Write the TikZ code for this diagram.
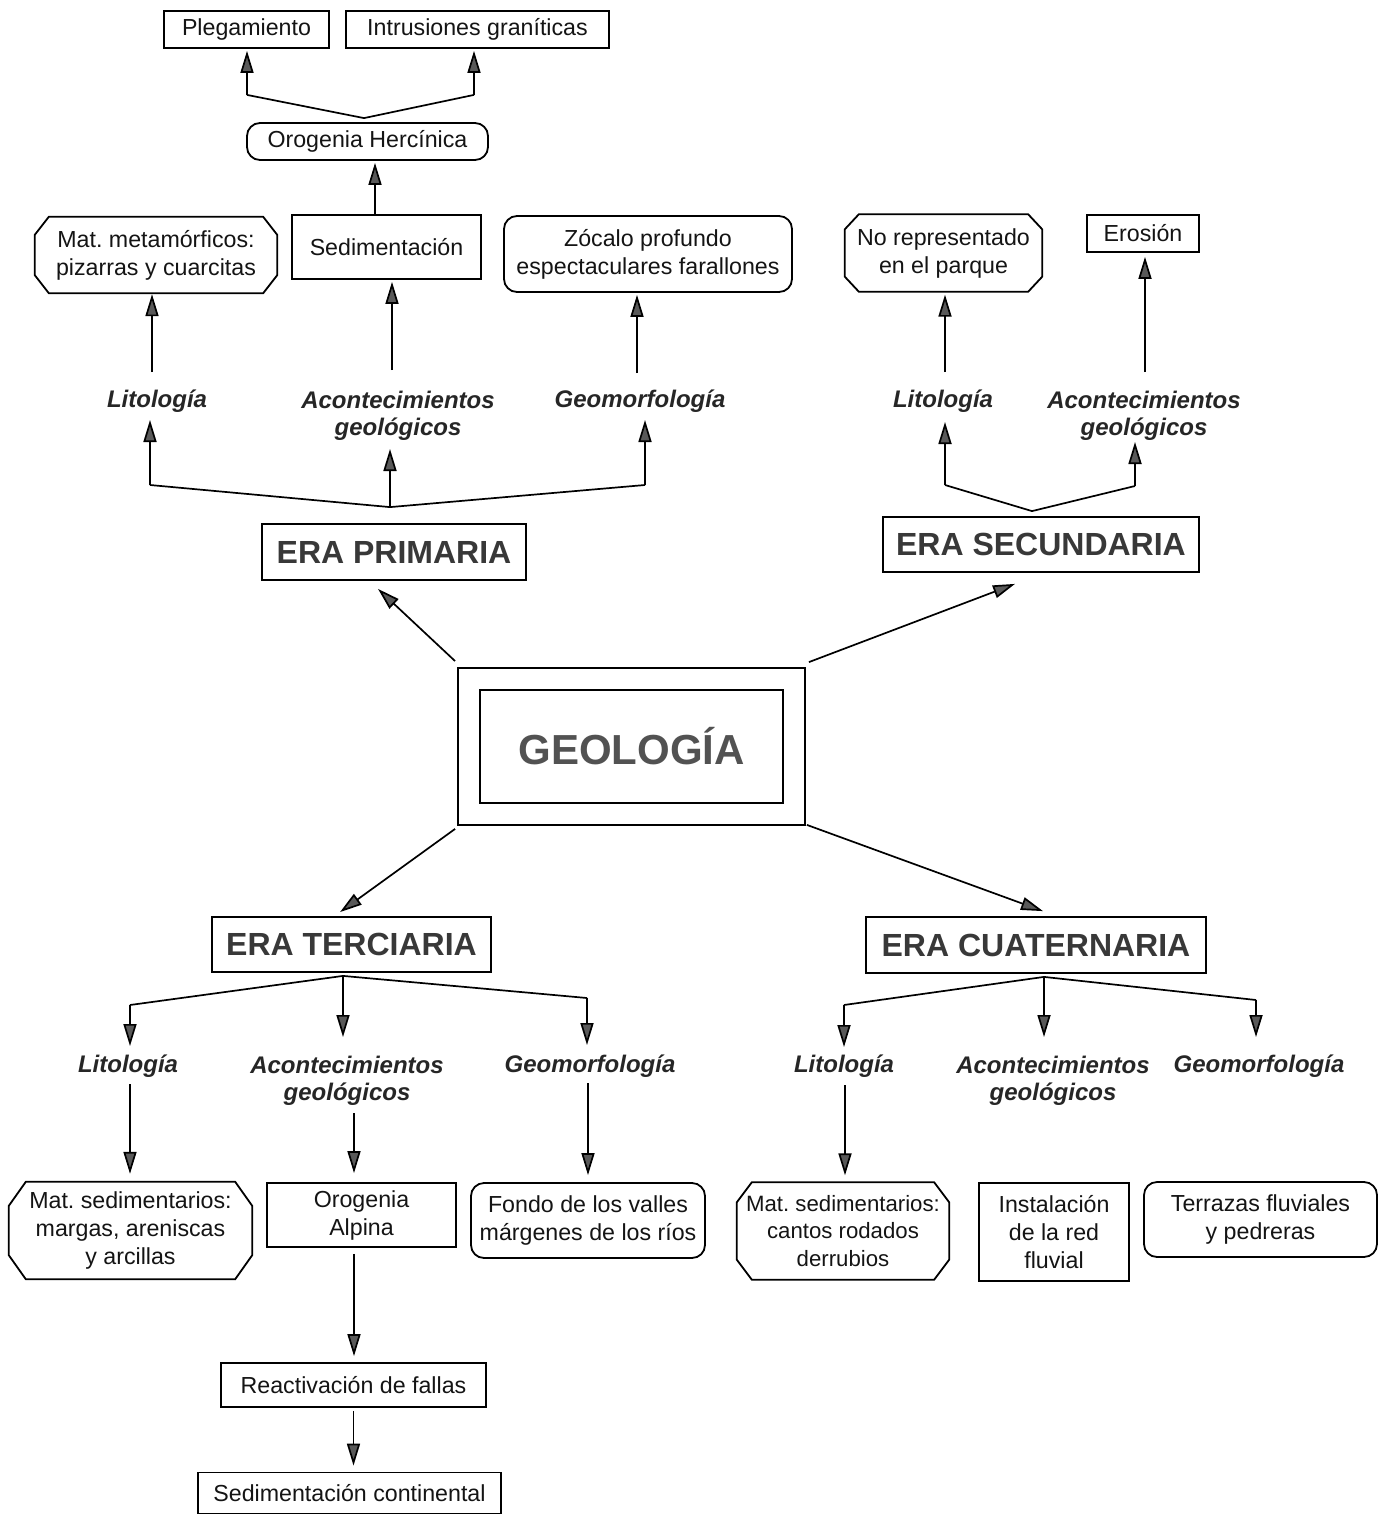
\documentclass[tikz,border=0pt]{standalone}
\usepackage{fontspec}
\setmainfont{Liberation Sans}
\usetikzlibrary{arrows.meta}
\newcommand\octframe[3]{%
  \draw[boxline] ([xshift=#2pt]#1.north west) -- ([xshift=-#2pt]#1.north east)
    -- ([yshift=-#3pt]#1.north east) -- ([yshift=#3pt]#1.south east)
    -- ([xshift=-#2pt]#1.south east) -- ([xshift=#2pt]#1.south west)
    -- ([yshift=#3pt]#1.south west) -- ([yshift=-#3pt]#1.north west) -- cycle;}
\begin{document}
\frenchspacing
\begin{tikzpicture}[x=1pt,y=-1pt,
  boxline/.style={line width=1.8pt, line join=miter},
  txt/.style={font=\fontsize{23.2}{28}\selectfont, align=center, text=black!92},
  lbl/.style={font=\fontsize{24}{27}\selectfont\bfseries\itshape, align=center, text=black!85, inner sep=0pt},
  era/.style={draw, boxline, font=\fontsize{32}{36}\selectfont\bfseries, text=black!78, inner sep=0pt},
  box/.style={draw, boxline, txt, inner sep=0pt},
  rbox/.style={box, rounded corners=13pt},
  obox/.style={txt, inner sep=0pt},
  arr/.style={line width=1.7pt, -{Triangle[length=22pt,width=13pt,fill=black!65]}},
  ln/.style={line width=1.7pt},
]
\fill[white] (0,0) rectangle (1382,1515);
\useasboundingbox (0,0) rectangle (1382,1515);

% ---------- top part
\node[box, minimum width=165pt, minimum height=37pt] (pleg) at (246.5,29.5) {Plegamiento};
\node[box, minimum width=263pt, minimum height=37pt] (intr) at (477.5,29.5) {Intrusiones graníticas};
\node[rbox, minimum width=241pt, minimum height=37pt] (oroH) at (367.5,141.5) {Orogenia Hercínica};
\node[obox, minimum width=242pt, minimum height=76pt] (matmet) at (156,255) {Mat. metamórficos:\\pizarras y cuarcitas};
\octframe{matmet}{14}{18}
\node[box, minimum width=189pt, minimum height=64pt] (sedim) at (386.5,247) {Sedimentación};
\node[rbox, minimum width=288pt, minimum height=76pt] (zocalo) at (648,254) {Zócalo profundo\\espectaculares farallones};
\node[obox, minimum width=197pt, minimum height=77pt] (norep) at (943.5,253) {No representado\\en el parque};
\octframe{norep}{14}{15}
\node[box, minimum width=112pt, minimum height=37pt] (eros) at (1143,233.5) {Erosión};

\node[lbl] (lit1) at (157,401) {Litología};
\node[lbl] (acon1) at (398,416) {Acontecimientos\\geológicos};
\node[lbl] (geo1) at (640,401) {Geomorfología};
\node[lbl] (lit2) at (943,401) {Litología};
\node[lbl] (acon2) at (1144,416) {Acontecimientos\\geológicos};

\node[era, minimum width=264pt, minimum height=56pt] (prim) at (394,552) {ERA PRIMARIA};
\node[era, minimum width=316pt, minimum height=55pt] (sec) at (1041,544.5) {ERA SECUNDARIA};

% ---------- centre
\node[draw, boxline, minimum width=347pt, minimum height=157pt] (geoout) at (631.5,746.5) {};
\node[draw, boxline, minimum width=303pt, minimum height=113pt, inner sep=0pt,
      font=\fontsize{42}{46}\selectfont\bfseries, text=black!68] (geoin) at (631.5,746.5) {GEOLOGÍA};

% ---------- bottom part
\node[era, minimum width=279pt, minimum height=55pt] (terc) at (351.5,944.5) {ERA TERCIARIA};
\node[era, minimum width=340pt, minimum height=56pt] (cuat) at (1036,945) {ERA CUATERNARIA};

\node[lbl] (lit3) at (128,1066) {Litología};
\node[lbl] (acon3) at (347,1081) {Acontecimientos\\geológicos};
\node[lbl] (geo3) at (590,1066) {Geomorfología};
\node[lbl] (lit4) at (844,1066) {Litología};
\node[lbl] (acon4) at (1053,1081) {Acontecimientos\\geológicos};
\node[lbl] (geo4) at (1259,1066) {Geomorfología};

\node[obox, minimum width=243pt, minimum height=97pt] (matsed1) at (130.5,1230.5) {Mat. sedimentarios:\\margas, areniscas\\y arcillas};
\octframe{matsed1}{17}{24}
\node[box, minimum width=189pt, minimum height=64pt] (oroA) at (361.5,1215) {Orogenia\\Alpina};
\node[rbox, minimum width=234pt, minimum height=75pt] (fondo) at (588,1220.5) {Fondo de los valles\\márgenes de los ríos};
\node[box, minimum width=265pt, minimum height=44pt] (react) at (353.5,1385) {Reactivación de fallas};
\node[box, minimum width=303pt, minimum height=41pt] (sedcont) at (349.5,1493) {Sedimentación continental};
\node[obox, minimum width=212pt, minimum height=97pt, font=\fontsize{22.2}{27.5}\selectfont] (matsed2) at (843,1231) {Mat. sedimentarios:\\cantos rodados\\derrubios};
\octframe{matsed2}{15}{20}
\node[box, minimum width=150pt, minimum height=98pt] (inst) at (1054,1232) {Instalación\\de la red\\fluvial};
\node[rbox, minimum width=233pt, minimum height=75pt] (terr) at (1260.5,1219.5) {Terrazas fluviales\\y pedreras};

% ---------- connectors: top
\coordinate (j0) at ([xshift=-3.5pt,yshift=4pt]oroH.north);
\coordinate (c0a) at ([xshift=0.5pt,yshift=-46pt]pleg.south);
\coordinate (c0b) at ([xshift=-3.5pt,yshift=-46pt]intr.south);
\draw[ln] (c0a) -- (j0) -- (c0b);
\draw[arr, shorten >=2pt] (c0a) -- (c0a |- pleg.south);
\draw[arr, shorten >=2pt] (c0b) -- (c0b |- intr.south);
\draw[arr, shorten >=2pt] ([xshift=-11.5pt]sedim.north) -- ([xshift=7.5pt]oroH.south);

\draw[arr, shorten >=1pt] ([xshift=-5pt,yshift=29pt]lit1.center) -- ([xshift=-4pt]matmet.south);
\draw[arr, shorten >=2pt] ([xshift=-6pt,yshift=46pt]acon1.center) -- ([xshift=5.5pt]sedim.south);
\draw[arr, shorten >=2pt] ([xshift=-3pt,yshift=28pt]geo1.center) -- ([xshift=-11pt]zocalo.south);
\draw[arr, shorten >=3pt] ([xshift=2pt,yshift=29pt]lit2.center) -- ([xshift=1.5pt]norep.south);
\draw[arr, shorten >=4pt] ([xshift=1pt,yshift=44pt]acon2.center) -- ([xshift=2pt]eros.south);

% fork primaria
\coordinate (j1) at ([xshift=-4pt,yshift=16pt]prim.north);
\coordinate (c1a) at ([xshift=-7pt,yshift=-84pt]lit1.center);
\coordinate (c1c) at ([xshift=5pt,yshift=-84pt]geo1.center);
\draw[ln] (c1a) -- (j1) -- (c1c);
\draw[arr] (c1a) -- ([xshift=-7pt,yshift=-19pt]lit1.center);
\draw[arr] (j1) -- ([xshift=-8pt,yshift=-33pt]acon1.center);
\draw[arr] (c1c) -- ([xshift=5pt,yshift=-19pt]geo1.center);

% fork secundaria
\coordinate (j2) at ([xshift=-9pt,yshift=5pt]sec.north);
\coordinate (c2a) at ([xshift=2pt,yshift=-84pt]lit2.center);
\coordinate (c2b) at ([xshift=-9pt,yshift=-70pt]acon2.center);
\draw[ln] (c2a) -- (j2) -- (c2b);
\draw[arr] (c2a) -- ([xshift=2pt,yshift=-21pt]lit2.center);
\draw[arr] (c2b) -- ([xshift=-9pt,yshift=-26pt]acon2.center);

% ---------- connectors from GEOLOGIA
\draw[arr] ([xshift=-2pt,yshift=6pt]geoout.north west) -- ([xshift=-16pt,yshift=-8pt]prim.south);
\draw[arr] ([xshift=3pt,yshift=5pt]geoout.north east) -- ([xshift=-26pt,yshift=-11pt]sec.south);
\draw[arr] ([xshift=-2pt,yshift=-3pt]geoout.south west) -- ([xshift=-11.5pt,yshift=4pt]terc.north);
\draw[arr] ([xshift=1pt,yshift=1pt]geoout.south east) -- ([xshift=7pt,yshift=5pt]cuat.north);

% fork terciaria
\coordinate (j3) at ([xshift=-8.5pt,yshift=-3pt]terc.south);
\coordinate (c3a) at ([xshift=2pt,yshift=61pt]lit3.center);
\coordinate (c3c) at ([xshift=-3pt,yshift=68pt]geo3.center);
\draw[ln] (c3a) -- (j3) -- (c3c);
\draw[arr] (c3a) -- ([xshift=2pt,yshift=20pt]lit3.center);
\draw[arr] (j3) -- ([xshift=-4pt,yshift=44pt]acon3.center);
\draw[arr] (c3c) -- ([xshift=-3pt,yshift=21pt]geo3.center);

\draw[arr, shorten >=8pt] ([xshift=2pt,yshift=-18pt]lit3.center) -- ([xshift=-0.5pt]matsed1.north);
\draw[arr, shorten >=9pt] ([xshift=7pt,yshift=-32pt]acon3.center) -- ([xshift=-7.5pt]oroA.north);
\draw[arr, shorten >=7pt] ([xshift=-2pt,yshift=-17pt]geo3.center) -- (fondo.north);
\draw[arr, shorten >=6pt] ([xshift=-7.5pt,yshift=-6pt]oroA.south) -- ([xshift=0.5pt]react.north);
\draw[arr, shorten >=6pt] ([yshift=-3pt]react.south) -- ([xshift=4pt]sedcont.north);

% fork cuaternaria
\coordinate (j4) at ([xshift=8pt,yshift=-3pt]cuat.south);
\coordinate (c4a) at ([yshift=61pt]lit4.center);
\coordinate (c4c) at ([xshift=-3pt,yshift=66pt]geo4.center);
\draw[ln] (c4a) -- (j4) -- (c4c);
\draw[arr] (c4a) -- ([yshift=19pt]lit4.center);
\draw[arr] (j4) -- ([xshift=-9pt,yshift=44pt]acon4.center);
\draw[arr] (c4c) -- ([xshift=-3pt,yshift=29pt]geo4.center);
\draw[arr, shorten >=7pt] ([xshift=1pt,yshift=-19pt]lit4.center) -- ([xshift=2pt]matsed2.north);
\end{tikzpicture}
\end{document}
